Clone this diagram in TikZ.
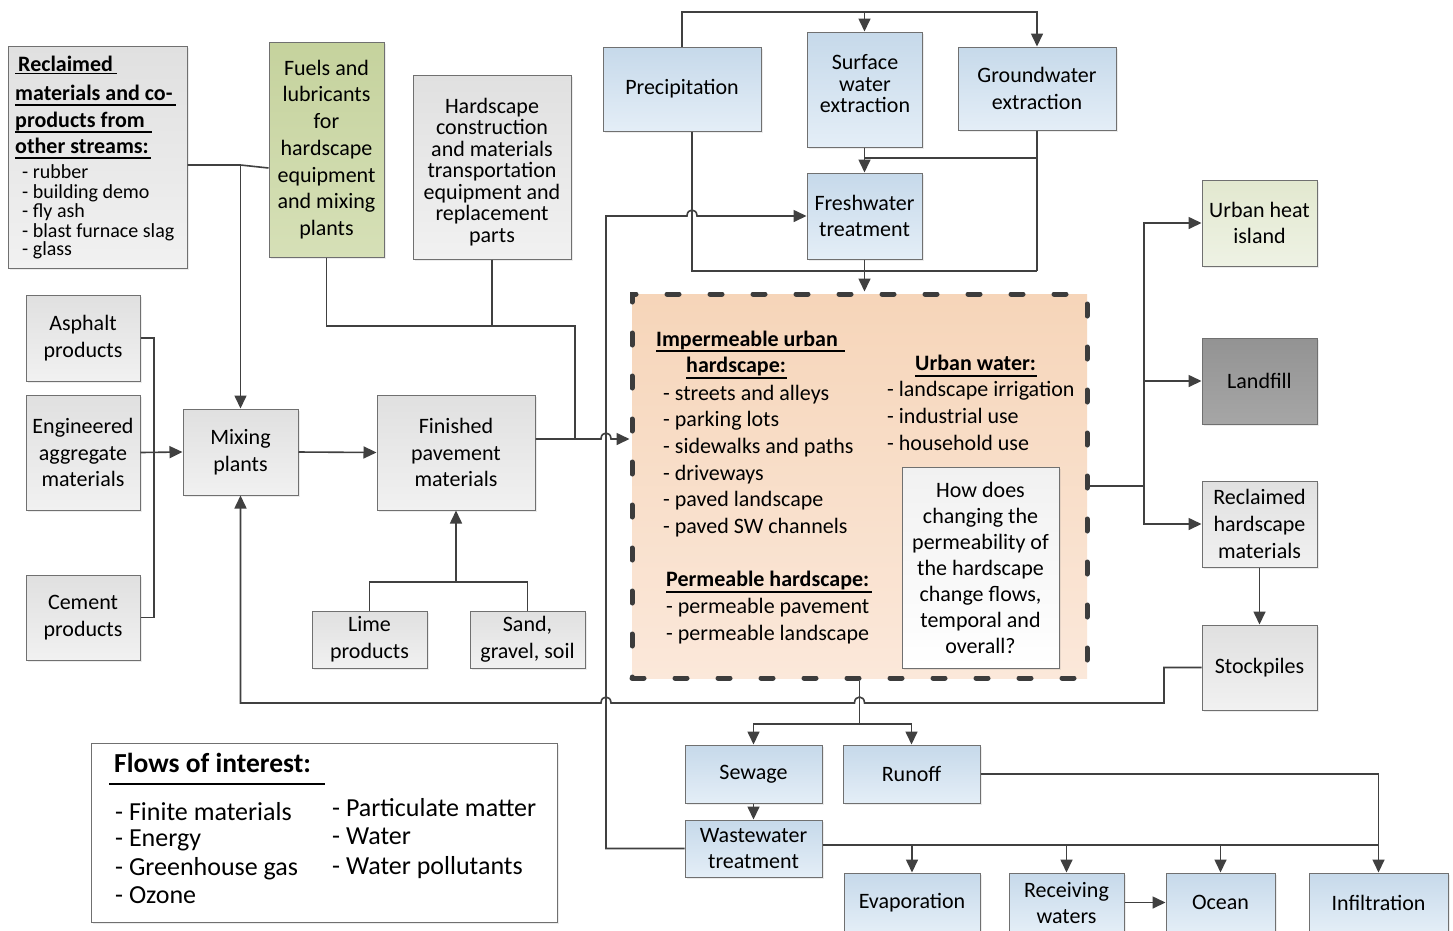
\documentclass[tikz,border=0pt]{standalone}
\usepackage{fontspec}
\setmainfont{Carlito}
\usetikzlibrary{arrows.meta,calc,shadows}
\definecolor{lc}{HTML}{404040}
\definecolor{bc}{HTML}{707070}
\definecolor{g1}{HTML}{E0E0E0}
\definecolor{g2}{HTML}{F1F1F1}
\definecolor{b1}{HTML}{C6D9EA}
\definecolor{b2}{HTML}{E4EEF7}
\definecolor{gr1}{HTML}{C5D29D}
\definecolor{gr2}{HTML}{D6E0B7}
\definecolor{lg1}{HTML}{E2E8CF}
\definecolor{lg2}{HTML}{EEF2E4}
\definecolor{d1}{HTML}{939393}
\definecolor{d2}{HTML}{A6A6A6}
\definecolor{p1}{HTML}{F6D5B9}
\definecolor{p2}{HTML}{FBE8DA}
\definecolor{dashc}{HTML}{3C3C3C}
\newcommand\bx[7]{\node[#6, minimum width={(#4)-(#2)}, minimum height={(#5)-(#3)}] (#1) at ({((#2)+(#4))/2},{((#3)+(#5))/2}) {#7};}
\tikzset{
  boxbase/.style={draw=bc, line width=1pt, align=center, inner sep=0pt, text=black,
    font=\fontsize{22}{26.7}\selectfont,
    drop shadow={shadow xshift=2pt, shadow yshift=-2pt, opacity=0.15}},
  greybox/.style={boxbase, top color=g1, bottom color=g2},
  bluebox/.style={boxbase, top color=b1, bottom color=b2},
  greenbox/.style={boxbase, top color=gr1, bottom color=gr2},
  lightgreen/.style={boxbase, top color=lg1, bottom color=lg2},
  darkbox/.style={boxbase, top color=d1, bottom color=d2},
  whitebox/.style={boxbase, top color=g2, bottom color=white},
  tightlabel/.style={align=center, inner sep=0pt, font=\fontsize{22}{21.5}\selectfont},
  dashbox/.style={draw=dashc, line width=5pt, dash pattern=on 12pt off 31pt, line cap=round, top color=p1, bottom color=p2},
  conn/.style={draw=lc, line width=1.6pt},
  arr/.style={conn, -{Triangle[length=13pt,width=12pt]}},
  txt/.style={anchor=base west, inner sep=0pt, font=\fontsize{22}{26.7}\selectfont},
  txtb/.style={txt, font=\bfseries\fontsize{22}{26.7}\selectfont},
  txts/.style={txt, font=\fontsize{20}{20}\selectfont},
  txtl/.style={txt, font=\fontsize{26}{28}\selectfont},
  txtlb/.style={txt, font=\bfseries\fontsize{27.5}{30}\selectfont},
  ul/.style={draw=black, line width=1.3pt},
}
\begin{document}
\begin{tikzpicture}[x=1pt,y=-1pt]
\fill[white] (0,0) rectangle (1453,930);
\useasboundingbox (0,0) rectangle (1453,930);
\clip (0,0) rectangle (1453,930);

% ---------- boxes ----------
\bx{rec}{8}{46}{187}{268}{greybox}{}
\bx{fuel}{269}{42}{384}{257}{greenbox}{Fuels and\\lubricants\\for\\hardscape\\equipment\\and mixing\\plants}
\bx{hsc}{413}{75}{571}{259}{greybox}{}
\node[tightlabel] (hsct) at (492,172) {Hardscape\\construction\\and materials\\transportation\\equipment and\\replacement\\parts};
\bx{prec}{603}{47}{761}{131}{bluebox}{Precipitation}
\bx{sw}{807}{32}{922}{147}{bluebox}{}
\node[tightlabel] (swt) at (865,84) {Surface\\water\\extraction};
\bx{gw}{958}{47}{1116}{130}{bluebox}{Groundwater\\extraction}
\bx{fw}{807}{173}{922}{259}{bluebox}{Freshwater\\treatment}
\bx{asph}{26}{295}{140}{381}{greybox}{Asphalt\\products}
\bx{eng}{26}{395}{140}{510}{greybox}{Engineered\\aggregate\\materials}
\bx{cem}{26}{575}{140}{660}{greybox}{Cement\\products}
\bx{mix}{183}{409}{298}{495}{greybox}{Mixing\\plants}
\bx{fin}{377}{395}{535}{510}{greybox}{Finished\\pavement\\materials}
\bx{lime}{312}{611}{427}{668}{greybox}{Lime\\products}
\bx{sand}{470}{611}{585}{668}{greybox}{Sand,\\gravel, soil}
\bx{hard}{632}{294}{1087}{678}{dashbox}{}
\bx{q}{902}{467}{1059}{668}{whitebox,font=\fontsize{22}{26}\selectfont}{How does\\changing the\\permeability of\\the hardscape\\change flows,\\temporal and\\overall?}
\bx{uhi}{1202}{180}{1317}{266}{lightgreen}{Urban heat\\island}
\bx{lf}{1202}{338}{1317}{424}{darkbox}{Landfill}
\bx{rh}{1202}{481}{1317}{567}{greybox}{Reclaimed\\hardscape\\materials}
\bx{sp}{1202}{625}{1317}{710}{greybox}{Stockpiles}
\bx{sew}{685}{745}{822}{803}{bluebox}{Sewage}
\bx{run}{843}{745}{980}{803}{bluebox}{Runoff}
\bx{ww}{685}{820}{822}{877}{bluebox}{Wastewater\\treatment}
\bx{evap}{844}{873}{980}{932}{bluebox}{Evaporation}
\bx{recv}{1009}{873}{1124}{932}{bluebox,font=\fontsize{22}{26}\selectfont}{Receiving\\waters}
\bx{ocean}{1166}{873}{1275}{932}{bluebox}{Ocean}
\bx{inf}{1309}{873}{1448}{932}{bluebox}{Infiltration}
\bx{leg}{91}{743}{557}{922}{boxbase,fill=white}{}

% ---------- reclaimed box text ----------
\node[txtb] (r1) at (18,71) {Reclaimed};
\node[txtb] (r2) at (15,100.5) {materials and co-};
\node[txtb] (r3) at (15,127) {products from};
\node[txtb] (r4) at (15,153.5) {other streams:};
\draw[ul] (15,73.5) -- (117,73.5);
\draw[ul] (15,105) -- (176,105);
\draw[ul] (15,132) -- (152,132);
\draw[ul] (15,158) -- (151,158);
\node[txts] (r5) at (22,178.3) {- rubber};
\node[txts] (r6) at (22,198) {- building demo};
\node[txts] (r7) at (22,217.5) {- fly ash};
\node[txts] (r8) at (22,237) {- blast furnace slag};
\node[txts] (r9) at (22,255) {- glass};

% ---------- urban hardscape text ----------
\node[txtb] (h1) at (656,346.7) {Impermeable urban};
\draw[ul] (656,351) -- (845,351);
\node[txtb] (h2) at (686,372.7) {hardscape:};
\draw[ul] (686,378) -- (787,378);
\node[txt] (h3) at (663,400) {- streets and alleys};
\node[txt] (h4) at (663,426.7) {- parking lots};
\node[txt] (h5) at (663,453.3) {- sidewalks and paths};
\node[txt] (h6) at (663,480) {- driveways};
\node[txt] (h7) at (663,506.7) {- paved landscape};
\node[txt] (h8) at (663,533.3) {- paved SW channels};
\node[txtb] (u1) at (915,370) {Urban water:};
\draw[ul] (915,376) -- (1037,376);
\node[txt] (u2) at (887,396.7) {- landscape irrigation};
\node[txt] (u3) at (887,423.3) {- industrial use};
\node[txt] (u4) at (887,450) {- household use};
\node[txtb] (pm1) at (666,586.7) {Permeable hardscape:};
\draw[ul] (666,592) -- (872,592);
\node[txt] (pm2) at (666,613.3) {- permeable pavement};
\node[txt] (pm3) at (666,640.7) {- permeable landscape};

% ---------- legend text ----------
\node[txtlb] (l0) at (114,772) {Flows of interest:};
\draw[ul] (109,784) -- (325,784);
\node[txtl] (l1) at (115,820) {- Finite materials};
\node[txtl] (l2) at (115,846) {- Energy};
\node[txtl] (l3) at (115,875) {- Greenhouse gas};
\node[txtl] (l4) at (115,903) {- Ozone};
\node[txtl] (l5) at (332,816) {- Particulate matter};
\node[txtl] (l6) at (332,844) {- Water};
\node[txtl] (l7) at (332,874) {- Water pollutants};

% ---------- connectors ----------
\coordinate (j1) at (240.5,165);
\coordinate (yf) at (0,168);
\draw[conn] (rec.east |- j1) -- (j1) -- (fuel.west |- yf);
\draw[arr] (j1) -- (mix.north);

\coordinate (busx) at (154,0);
\draw[conn] (asph.east) -- (asph.east -| busx) -- (cem.east -| busx) -- (cem.east);
\draw[arr] (eng.east) -- (mix.west);
\draw[arr] (mix.east) -- (fin.west);

\coordinate (ls) at (456,582);
\draw[conn] (lime.north) |- (ls) -| (sand.north);
\draw[arr] (ls) -- (fin.south);

\coordinate (k1) at (575,326);
\coordinate (k2) at (575,439);
\draw[conn] (fuel.south) |- (k1) -- (k2);
\draw[conn] (hsc.south) -- (hsc.south |- k1);
\draw[arr] (fin.east |- k2) -- (k2) -- (601,439) .. controls (601,431) and (611,431) .. (611,439) -- (hard.west |- k2);

\coordinate (ytop) at (0,12);
\draw[arr] (prec.north) |- (gw.north |- ytop) -- (gw.north);
\draw[arr] (sw.north |- ytop) -- (sw.north);
\draw[arr] (sw.south) -- (fw.north);
\coordinate (y158) at (0,158);
\coordinate (y271) at (0,271);
\draw[conn] (gw.south) -- (gw.south |- y271);
\draw[conn] (gw.south |- y158) -- (sw.south |- y158);
\coordinate (pb) at ($(prec.south)+(10,0)$);
\draw[conn] (pb) |- (gw.south |- y271);
\draw[arr] (fw.south) -- (fw.south |- hard.north);

\coordinate (v1) at (606,0);
\draw[arr] (ww.west) -- (ww.west -| v1) -- (v1 |- fw.west) -- (687,216) .. controls (687,208) and (697,208) .. (697,216) -- (fw.west);

\coordinate (rb) at (1144,0);
\draw[conn] (hard.east) -- (hard.east -| rb);
\draw[arr] (hard.east -| rb) |- (uhi.west);
\draw[arr] (hard.east -| rb) |- (lf.west);
\draw[arr] (hard.east -| rb) |- (rh.west);
\draw[arr] (rh.south) -- (sp.north);

\coordinate (s1) at (1164,703);
\draw[arr] (sp.west) -- (sp.west -| s1) -- (s1) -- (864.5,703) .. controls (864.5,695) and (854.5,695) .. (854.5,703) -- (611,703) .. controls (611,695) and (601,695) .. (601,703) -- (mix.south |- s1) -- (mix.south);

\coordinate (hs) at (859.5,724);
\draw[conn] (hard.south) -- (hs);
\draw[arr] (hs) -| (sew.north);
\draw[arr] (hs) -| (run.north);
\draw[arr] (sew.south) -- (ww.north);

\coordinate (wb) at (1378.5,845);
\draw[conn] (ww.east |- wb) -- (wb);
\draw[arr] (evap.north |- wb) -- (evap.north);
\draw[arr] (recv.north |- wb) -- (recv.north);
\draw[arr] (ocean.north |- wb) -- (ocean.north);
\draw[arr] (wb) -- (inf.north);
\draw[conn] (run.east) -| (wb);
\draw[arr] (recv.east) -- (ocean.west);
\end{tikzpicture}
\end{document}
